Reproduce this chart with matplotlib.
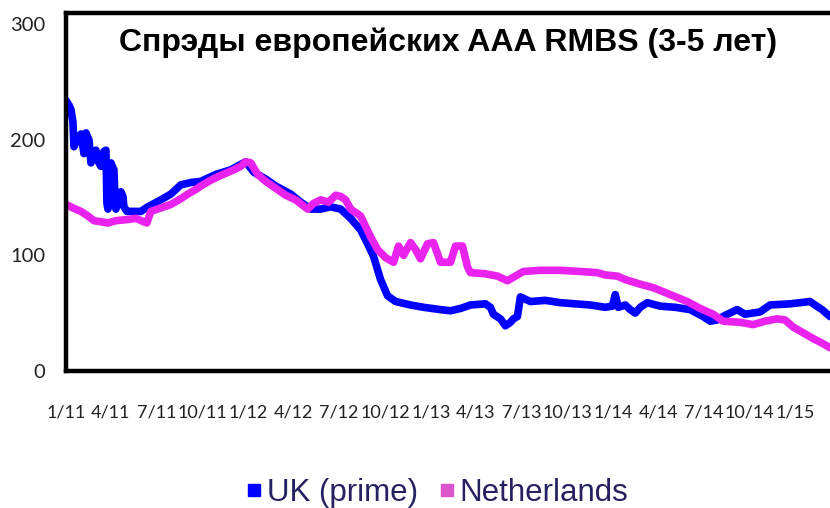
import matplotlib
matplotlib.use("Agg")
import matplotlib.pyplot as plt
from matplotlib.lines import Line2D
import pandas as pd

# spreads, bp
uk_dates = [
    "2011-01-01", "2011-01-07", "2011-01-11", "2011-01-15", "2011-01-17", "2011-01-23",
    "2011-01-31", "2011-02-06", "2011-02-10", "2011-02-16", "2011-02-20", "2011-02-24",
    "2011-03-02", "2011-03-08", "2011-03-12", "2011-03-18", "2011-03-22", "2011-03-24",
    "2011-03-26", "2011-03-28", "2011-04-01", "2011-04-07", "2011-04-09", "2011-04-11",
    "2011-04-17", "2011-04-21", "2011-04-25", "2011-04-27", "2011-05-03", "2011-05-11",
    "2011-05-31", "2011-06-14", "2011-07-10", "2011-07-30", "2011-08-19", "2011-09-08",
    "2011-09-28", "2011-10-28", "2011-11-27", "2011-12-27", "2012-01-12", "2012-02-05",
    "2012-02-25", "2012-03-26", "2012-04-15", "2012-05-05", "2012-05-25", "2012-06-14",
    "2012-07-04", "2012-07-24", "2012-08-13", "2012-08-27", "2012-09-08", "2012-09-22",
    "2012-10-06", "2012-10-22", "2012-11-01", "2012-11-21", "2012-12-17", "2013-01-20",
    "2013-02-09", "2013-03-01", "2013-03-21", "2013-04-20", "2013-04-30", "2013-05-06",
    "2013-05-20", "2013-05-30", "2013-06-09", "2013-06-15", "2013-06-23", "2013-06-29",
    "2013-07-19", "2013-08-18", "2013-09-17", "2013-10-17", "2013-11-16", "2013-12-16",
    "2013-12-30", "2014-01-05", "2014-01-11", "2014-01-25", "2014-02-04", "2014-02-14",
    "2014-02-24", "2014-03-10", "2014-04-05", "2014-05-05", "2014-06-04", "2014-06-30",
    "2014-07-14", "2014-07-28", "2014-08-13", "2014-09-06", "2014-09-22", "2014-10-22",
    "2014-11-11", "2014-12-21", "2015-01-10", "2015-01-30", "2015-02-09", "2015-02-23",
    "2015-03-11",
]
uk_values = [
    234, 230, 226, 215, 194, 200,
    205, 188, 206, 200, 180, 185,
    191, 180, 177, 190, 191, 145,
    140, 175, 180, 174, 150, 140,
    150, 155, 151, 142, 138, 138,
    138, 142, 148, 153, 161, 163,
    164, 170, 174, 181, 172, 166,
    160, 153, 146, 140, 140, 142,
    140, 132, 122, 110, 99, 79,
    65, 60, 59, 57, 55, 53,
    52, 54, 57, 58, 55, 49,
    45, 39, 42, 45, 47, 64,
    60, 61, 59, 58, 57, 55,
    56, 66, 55, 57, 53, 50,
    55, 59, 56, 55, 53, 47,
    43, 44, 48, 53, 49, 51,
    57, 58, 59, 60, 57, 53,
    47,
]

nl_dates = [
    "2011-01-01", "2011-01-15", "2011-01-31", "2011-02-14", "2011-02-26", "2011-03-26",
    "2011-04-11", "2011-05-05", "2011-05-21", "2011-06-06", "2011-06-12", "2011-06-20",
    "2011-07-10", "2011-07-30", "2011-08-19", "2011-09-02", "2011-09-18", "2011-09-28",
    "2011-10-18", "2011-11-01", "2011-11-17", "2011-12-03", "2011-12-17", "2011-12-27",
    "2012-01-06", "2012-01-20", "2012-02-05", "2012-02-25", "2012-03-16", "2012-04-05",
    "2012-04-29", "2012-05-11", "2012-05-25", "2012-06-10", "2012-06-24", "2012-07-04",
    "2012-07-14", "2012-07-24", "2012-08-13", "2012-08-23", "2012-09-02", "2012-09-16",
    "2012-10-02", "2012-10-18", "2012-10-28", "2012-11-07", "2012-11-21", "2012-12-01",
    "2012-12-11", "2012-12-25", "2013-01-06", "2013-01-20", "2013-02-09", "2013-02-19",
    "2013-03-05", "2013-03-15", "2013-03-21", "2013-04-20", "2013-05-14", "2013-06-03",
    "2013-06-19", "2013-07-05", "2013-08-08", "2013-09-17", "2013-10-27", "2013-11-30",
    "2013-12-16", "2014-01-09", "2014-01-25", "2014-02-24", "2014-03-22", "2014-04-25",
    "2014-05-29", "2014-06-24", "2014-07-20", "2014-08-09", "2014-09-12", "2014-10-08",
    "2014-11-01", "2014-11-25", "2014-12-11", "2014-12-27", "2015-01-16", "2015-02-05",
    "2015-02-23", "2015-03-11",
]
nl_values = [
    144, 141, 138, 134, 130, 128,
    130, 131, 132, 129, 128, 138,
    141, 144, 149, 153, 157, 160,
    165, 168, 171, 174, 177, 181,
    180, 170, 164, 158, 152, 148,
    140, 145, 148, 146, 152, 151,
    148, 140, 134, 125, 116, 105,
    98, 94, 108, 100, 111, 105,
    97, 110, 111, 94, 94, 108,
    108, 90, 85, 84, 82, 78,
    82, 86, 87, 87, 86, 85,
    83, 82, 79, 75, 72, 66,
    60, 54, 49, 43, 42, 40,
    43, 45, 44, 38, 33, 28,
    24, 20,
]

tick_labels = ["1/11", "4/11", "7/11", "10/11", "1/12", "4/12", "7/12", "10/12",
               "1/13", "4/13", "7/13", "10/13", "1/14", "4/14", "7/14", "10/14", "1/15"]
y_ticks = [0, 100, 200, 300]

title = "Спрэды европейских AAA RMBS (3-5 лет)"
series_names = ["UK (prime)", "Netherlands"]

uk = pd.Series(uk_values, index=pd.to_datetime(uk_dates))
nl = pd.Series(nl_values, index=pd.to_datetime(nl_dates))
tick_dates = [pd.Timestamp(year=2000 + int(t.split("/")[1]), month=int(t.split("/")[0]), day=1)
              for t in tick_labels]

fig = plt.figure(figsize=(8.3, 5.08), dpi=100)
ax = fig.add_axes([0.0795, 0.27, 0.9205, 0.705])

blue = "#0000ff"
pink = "#ea22ee"
ax.plot(uk.index, uk.values, color=blue, lw=5.5, solid_joinstyle="round", solid_capstyle="round")
ax.plot(nl.index, nl.values, color=pink, lw=5.5, solid_joinstyle="round", solid_capstyle="round")

ax.set_xlim(pd.Timestamp("2011-01-01"), pd.Timestamp("2015-03-11"))
ax.set_ylim(0, 310)
ax.set_yticks(y_ticks)
ax.set_xticks(tick_dates)
ax.set_xticklabels(tick_labels)

for s in ["left", "top", "bottom"]:
    ax.spines[s].set_linewidth(3.2)
    ax.spines[s].set_color("black")
ax.spines["right"].set_visible(False)
ax.tick_params(length=0)
# pad is in points
ax.tick_params(axis="x", labelsize=13, pad=24, labelcolor="#222222")
ax.tick_params(axis="y", labelsize=14.5, pad=15, labelcolor="#222222")
for lab in ax.get_xticklabels() + ax.get_yticklabels():
    lab.set_family("Lato")

ax.text(0.5, 0.915, title, transform=ax.transAxes, ha="center", va="center",
        fontsize=23, fontweight="bold", family="Liberation Sans")

handles = [Line2D([], [], ls="none", marker="s", markersize=8, color=blue),
           Line2D([], [], ls="none", marker="s", markersize=9, color="#dd55cc")]
fig.legend(handles, series_names, loc="center", bbox_to_anchor=(0.527, 0.03), ncol=2,
           frameon=False, handlelength=0.5, handletextpad=0.15, columnspacing=0.7,
           prop={"family": "Liberation Sans", "size": 22.5}, labelcolor="#262262")

fig.savefig("out.png", dpi=100)
